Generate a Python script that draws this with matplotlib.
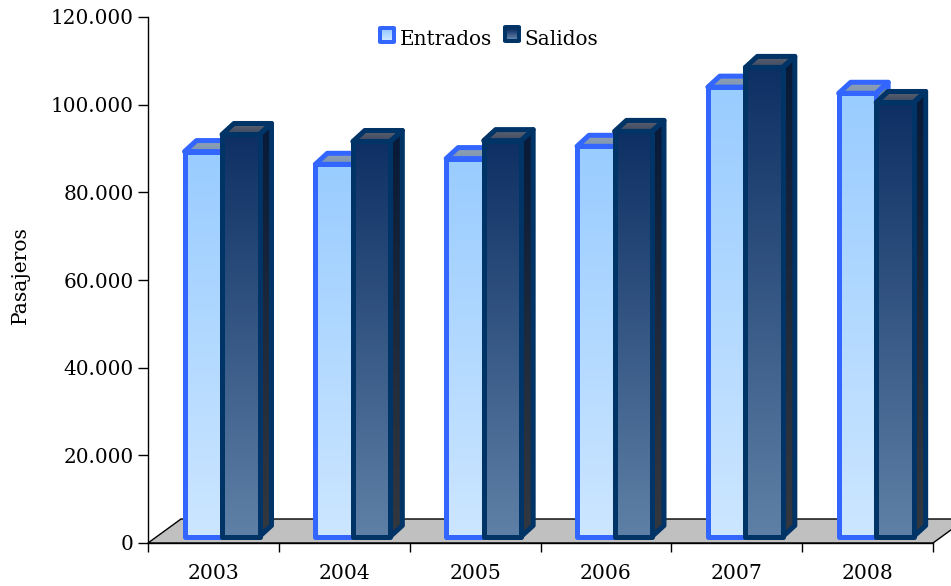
import matplotlib
matplotlib.use('Agg')
import matplotlib.pyplot as plt
import numpy as np
from matplotlib.colors import LinearSegmentedColormap
from matplotlib.patches import Polygon, FancyBboxPatch
from matplotlib.ticker import FuncFormatter

years = ['2003', '2004', '2005', '2006', '2007', '2008']
entrados = [89300, 86400, 87700, 90500, 104000, 102600]
salidos = [93200, 91600, 91800, 93900, 108500, 100500]
y_ticks = [0, 20000, 40000, 60000, 80000, 100000, 120000]

plt.rcParams['font.family'] = 'DejaVu Serif'

W, H = 951, 586
fig = plt.figure(figsize=(W / 100, H / 100), dpi=100)
ax = fig.add_axes([148 / W, (H - 543) / H, 785 / W, 526 / H])
ax.set_xlim(0, 6)
ax.set_ylim(0, 120000)

# pixel sizes -> data units
PX_X = 6 / 785
PX_Y = 120000 / 526
BAR_W = 37.5 * PX_X
BAR_OFF = 36.5 * PX_X
BASE = 6.5 * PX_Y
DX = 12 * PX_X
DY = 11 * PX_Y
FLOOR_DX = 33 * PX_X
FLOOR_DY = 24 * PX_Y


def gradient(x0, x1, y0, y1, top, bottom, clip=None, z=3):
    cmap = LinearSegmentedColormap.from_list('g', [top, bottom])
    im = ax.imshow(np.linspace(0, 1, 256).reshape(-1, 1), cmap=cmap, aspect='auto',
                   extent=(x0, x1, y0, y1), origin='upper', zorder=z, clip_on=True)
    if clip is not None:
        im.set_clip_path(clip)
    return im


def face(points, edge, z):
    p = Polygon(points, closed=True, facecolor='none', edgecolor=edge, linewidth=3.6,
                joinstyle='round', zorder=z, clip_on=False)
    ax.add_patch(p)
    return p


def bar3d(x, value, edge, front, side, lid, z):
    r = x + BAR_W
    # side face
    pts = [(r, BASE), (r + DX, BASE + DY), (r + DX, value + DY), (r, value)]
    clip = Polygon(pts, closed=True, transform=ax.transData)
    gradient(r, r + DX, BASE, value + DY, side[0], side[1], clip, z)
    face(pts, edge, z + 0.1)
    # top face
    pts = [(x, value), (x + DX, value + DY), (r + DX, value + DY), (r, value)]
    clip = Polygon(pts, closed=True, transform=ax.transData)
    gradient(x, r + DX, value, value + DY, lid[0], lid[1], clip, z)
    face(pts, edge, z + 0.1)
    # front face
    gradient(x, r, BASE, value, front[0], front[1], None, z + 0.2)
    face([(x, BASE), (x, value), (r, value), (r, BASE)], edge, z + 0.3)


# floor
ax.add_patch(Polygon([(0, 0), (FLOOR_DX, FLOOR_DY), (6 + FLOOR_DX, FLOOR_DY), (6, 0)], closed=True,
                     facecolor='#c0c0c0', edgecolor='black', linewidth=1, zorder=1, clip_on=False))

BLUE = dict(edge='#3366ff', front=('#99ccff', '#cce6ff'), side=('#5f7fa0', '#7f8f9f'), lid=('#8f9fb0', '#7f98b5'))
DARK = dict(edge='#003366', front=('#0d2f63', '#5f80a6'), side=('#081a38', '#33383f'), lid=('#5c6272', '#3f4a60'))

for i in range(len(years)):
    bar3d(i + BAR_OFF, entrados[i], z=3, **BLUE)
    bar3d(i + BAR_OFF + BAR_W, salidos[i], z=4, **DARK)

ax.set_xlim(0, 6)
ax.set_ylim(0, 120000)

for s in ['top', 'right']:
    ax.spines[s].set_visible(False)
for s in ['left', 'bottom']:
    ax.spines[s].set_linewidth(1)
    ax.spines[s].set_zorder(2)

ax.set_yticks(y_ticks)
ax.yaxis.set_major_formatter(FuncFormatter(lambda v, p: f'{int(v):,}'.replace(',', '.')))
ax.set_xticks(range(7))
ax.set_xticklabels([])
ax.set_xticks([i + 0.5 for i in range(6)], minor=True)
ax.set_xticklabels(years, minor=True)
ax.tick_params(axis='x', which='minor', length=0, pad=15, labelsize=14.6)
ax.tick_params(axis='x', which='major', length=6.5, width=1)
ax.tick_params(axis='y', length=7.2, width=1, pad=3, labelsize=14.4)
ax.set_zorder(1)

fig.text(20 / W, 1 - 275 / H, 'Pasajeros', rotation=90, ha='center', va='center', fontsize=14.6)


# legend, pixel coordinates of the figure
def swatch(x0, y0, edge, top, bottom):
    s = 18
    box = FancyBboxPatch((x0 / W, 1 - (y0 + s) / H), s / W, s / H, boxstyle='round,pad=0,rounding_size=0.003',
                         transform=fig.transFigure, facecolor=edge, edgecolor=edge, linewidth=0, zorder=5)
    fig.add_artist(box)
    inner = fig.add_axes([(x0 + 4) / W, 1 - (y0 + s - 4) / H, (s - 8) / W, (s - 8) / H], zorder=6)
    cmap = LinearSegmentedColormap.from_list('l', [top, bottom])
    inner.imshow(np.linspace(0, 1, 32).reshape(-1, 1), cmap=cmap, aspect='auto')
    inner.axis('off')


swatch(378, 26, BLUE['edge'], *BLUE['front'])
swatch(503, 25, DARK['edge'], *DARK['front'])
fig.text(400 / W, 1 - 45 / H, 'Entrados', ha='left', va='baseline', fontsize=14.4)
fig.text(524 / W, 1 - 45 / H, 'Salidos', ha='left', va='baseline', fontsize=14.4)

fig.savefig('out.png', dpi=100)
